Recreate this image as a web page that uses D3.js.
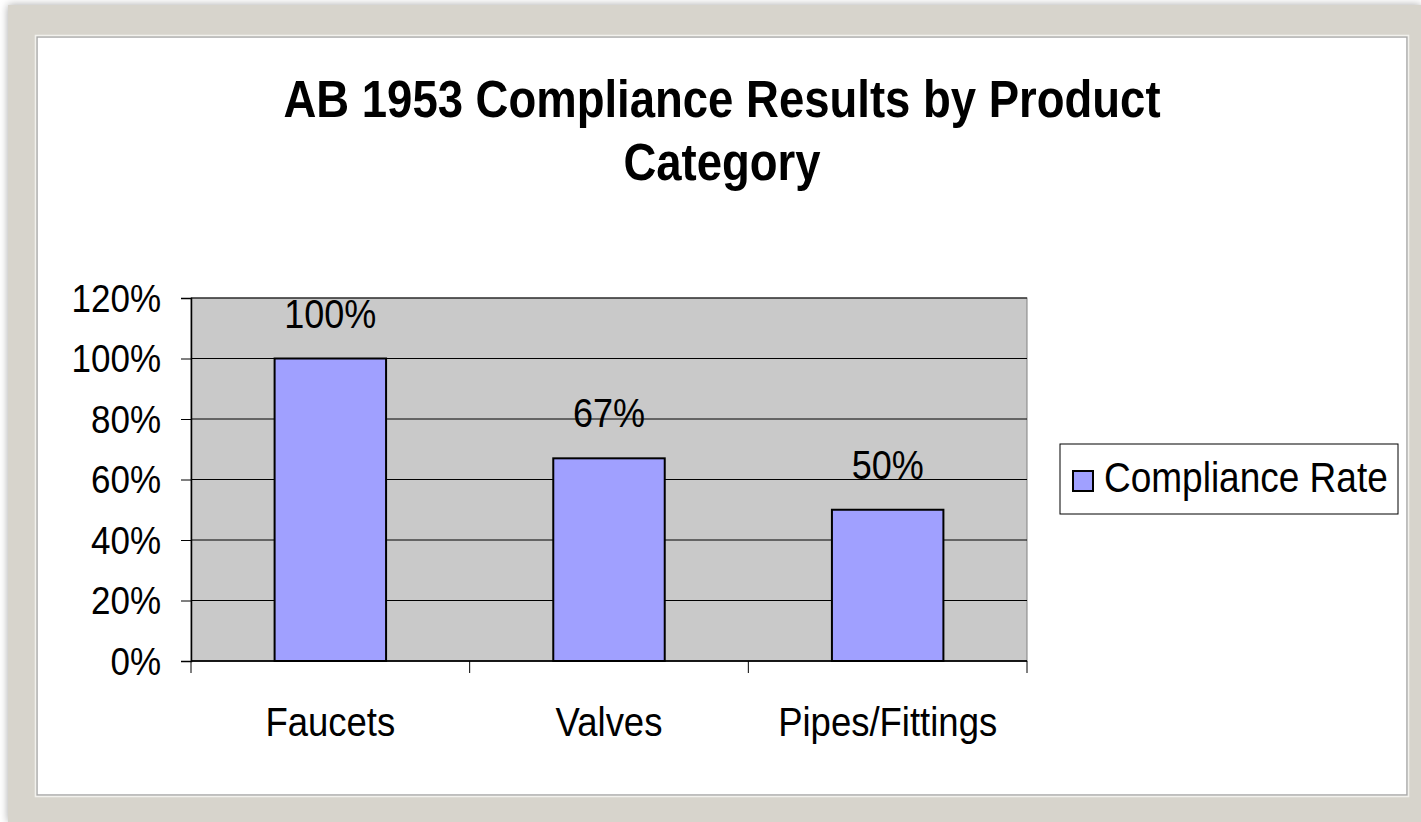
<!DOCTYPE html>
<html>
<head>
<meta charset="utf-8">
<script src="https://cdn.jsdelivr.net/npm/d3@7"></script>
<style>
  body { margin: 0; background: #ffffff; }
  svg { display: block; font-family: "Liberation Sans", Arial, sans-serif; }
</style>
</head>
<body>
<svg id="chart"></svg>
<script>
// chart data
var categories = ["Faucets", "Valves", "Pipes/Fittings"];
var rates = [1.00, 0.67, 0.50];
var valueLabels = ["100%", "67%", "50%"];
var yTicks = [0, 0.2, 0.4, 0.6, 0.8, 1.0, 1.2];
var seriesName = "Compliance Rate";
var titleLines = ["AB 1953 Compliance Results by Product", "Category"];

var width = 1421, height = 822;
var stretch = 1.13; // text in the original looks a bit taller than wide

var svg = d3.select("#chart")
    .attr("width", width)
    .attr("height", height);

var defs = svg.append("defs");
var f = defs.append("filter").attr("id", "shadow").attr("x", "-5%").attr("y", "-5%").attr("width", "110%").attr("height", "110%");
f.append("feGaussianBlur").attr("in", "SourceAlpha").attr("stdDeviation", 4);
f.append("feComponentTransfer").append("feFuncA").attr("type", "linear").attr("slope", 0.35);
var fm = f.append("feMerge");
fm.append("feMergeNode");
fm.append("feMergeNode").attr("in", "SourceGraphic");

// helper: stretched text at x,y
function sText(parent, x, y, str, size, anchor, weight) {
    return parent.append("text")
        .attr("transform", "translate(" + x + "," + y + ") scale(1," + stretch + ")")
        .attr("text-anchor", anchor || "middle")
        .style("font-size", size + "px")
        .style("font-weight", weight || "normal")
        .attr("fill", "#000")
        .text(str);
}

// outer frame
svg.append("rect")
    .attr("x", 8).attr("y", 5)
    .attr("width", width - 8).attr("height", height - 5)
    .attr("fill", "#d7d4cc")
    .attr("filter", "url(#shadow)");

// inner white panel
svg.append("rect")
    .attr("x", 37).attr("y", 37)
    .attr("width", 1370).attr("height", 758)
    .attr("fill", "#ffffff")
    .attr("stroke", "#a9a9a9")
    .attr("stroke-width", 1.5);
svg.append("rect")
    .attr("x", 35.5).attr("y", 35.5)
    .attr("width", 1373).attr("height", 761)
    .attr("fill", "none")
    .attr("stroke", "#f2f1ed")
    .attr("stroke-width", 1.5);

// title
titleLines.forEach(function(t, i) {
    sText(svg, 722, 117 + i * 63, t, 45.5, "middle", "bold");
});

// plot area
var plot = { left: 191, right: 1027, top: 298, bottom: 661 };

var xScale = d3.scaleBand()
    .domain(categories)
    .range([plot.left, plot.right])
    .paddingInner(0.6)
    .paddingOuter(0.3);

var xEdge = d3.scaleLinear()
    .domain([0, categories.length])
    .range([plot.left, plot.right]);

var yScale = d3.scaleLinear()
    .domain([0, 1.2])
    .range([plot.bottom, plot.top]);

svg.append("rect")
    .attr("x", plot.left).attr("y", plot.top)
    .attr("width", plot.right - plot.left).attr("height", plot.bottom - plot.top)
    .attr("fill", "#c9c9c9")
    .attr("stroke", "#808080")
    .attr("stroke-width", 1);

// gridlines
svg.append("g")
    .selectAll("line")
    .data(yTicks)
    .enter().append("line")
    .attr("x1", plot.left).attr("x2", plot.right)
    .attr("y1", function(d) { return yScale(d); })
    .attr("y2", function(d) { return yScale(d); })
    .attr("stroke", "#000")
    .attr("stroke-width", 1);

// bars
svg.append("g")
    .selectAll("rect")
    .data(rates)
    .enter().append("rect")
    .attr("x", function(d, i) { return xScale(categories[i]); })
    .attr("y", function(d) { return yScale(d); })
    .attr("width", xScale.bandwidth())
    .attr("height", function(d) { return yScale(0) - yScale(d); })
    .attr("fill", "#a0a0ff")
    .attr("stroke", "#000")
    .attr("stroke-width", 2);

// value labels
var vl = svg.append("g");
rates.forEach(function(d, i) {
    sText(vl, xScale(categories[i]) + xScale.bandwidth() / 2, yScale(d) - 31, valueLabels[i], 36);
});

// y axis
var yAxis = svg.append("g")
    .attr("transform", "translate(" + plot.left + ",0)")
    .call(d3.axisLeft(yScale)
        .tickValues(yTicks)
        .tickSize(10)
        .tickFormat(""));
yAxis.select(".domain").attr("stroke", "#000").attr("stroke-width", 1.5);
yAxis.selectAll(".tick line").attr("stroke", "#000");
var fmt = d3.format(".0%");
yAxis.selectAll(".tick").each(function(d) {
    sText(d3.select(this), -30, 13, fmt(d), 35, "end");
});

// x axis
var xAxis = svg.append("g")
    .attr("transform", "translate(0," + plot.bottom + ")");
xAxis.append("line")
    .attr("x1", plot.left).attr("x2", plot.right)
    .attr("stroke", "#000").attr("stroke-width", 1.5);
xAxis.selectAll(".xtick")
    .data(d3.range(categories.length + 1))
    .enter().append("line")
    .attr("class", "xtick")
    .attr("x1", function(d) { return xEdge(d); })
    .attr("x2", function(d) { return xEdge(d); })
    .attr("y1", 0).attr("y2", 12)
    .attr("stroke", "#000");
categories.forEach(function(c) {
    sText(xAxis, xScale(c) + xScale.bandwidth() / 2, 75, c, 36.5);
});

// legend
var legend = svg.append("g").attr("transform", "translate(1060,444)");
legend.append("rect")
    .attr("width", 338).attr("height", 70)
    .attr("fill", "#fff")
    .attr("stroke", "#000")
    .attr("stroke-width", 1);
legend.append("rect")
    .attr("x", 13).attr("y", 27)
    .attr("width", 20).attr("height", 20)
    .attr("fill", "#a0a0ff")
    .attr("stroke", "#000")
    .attr("stroke-width", 2);
sText(legend, 44, 48, seriesName, 37, "start");
</script>
</body>
</html>
